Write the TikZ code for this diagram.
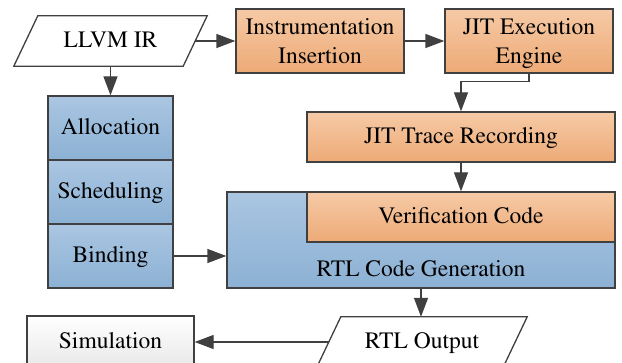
\documentclass[tikz,border=0pt]{standalone}
\usepackage[T1]{fontenc}
\usepackage{mathptmx}
\usetikzlibrary{arrows.meta,calc}

\definecolor{edge}{RGB}{64,64,64}
\definecolor{orangetop}{RGB}{246,202,166}
\definecolor{orangebot}{RGB}{237,170,118}
\definecolor{bluetop}{RGB}{170,198,226}
\definecolor{bluebot}{RGB}{140,177,212}
\definecolor{graybot}{RGB}{232,232,232}

\begin{document}
\begin{tikzpicture}[x=1pt,y=-1pt,
  font=\rmfamily\fontsize{23.5}{29}\selectfont,
  every node/.style={text height=17.5pt,text depth=5pt},
  twoline/.style={text height=50pt,text depth=5pt},
  box/.style={draw=edge,line width=1.3pt,minimum width=#1,inner sep=0pt,align=center},
  orangefill/.style={top color=orangetop,bottom color=orangebot},
  bluefill/.style={top color=bluetop,bottom color=bluebot},
  grayfill/.style={top color=white,bottom color=graybot},
  iobox/.style={minimum width=#1,minimum height=50pt,inner sep=0pt},
  para/.style={draw=edge,line width=1.3pt,fill=white,line join=miter},
  arr/.style={draw=edge,line width=1.3pt,-{Triangle[length=19pt,width=14pt,fill=edge]}}
]
\useasboundingbox (0,0) rectangle (622,363);
\clip (0,0) rectangle (622,363);

% input parallelogram
\node[iobox=169pt] (llvm) at (110.5,41) {};
\draw[para] ($(llvm.north west)+(12,0)$) -- ($(llvm.north east)+(12,0)$)
  -- ($(llvm.south east)+(-12,0)$) -- ($(llvm.south west)+(-12,0)$) -- cycle;
\node at (llvm.center) {LLVM IR};

% JIT side
\node[box=168pt,minimum height=64pt,orangefill,twoline] (ins) at (320,41) {Instrumentation\\Insertion};
\node[box=168pt,minimum height=64pt,orangefill,twoline] (jit) at (529,41) {JIT Execution\\Engine};
\node[box=308pt,minimum height=50pt,orangefill] (trace) at (461,137) {JIT Trace Recording};

% HLS stack
\node[box=125pt,minimum height=64pt,bluefill] (alloc) at (110.5,128) {Allocation};
\node[box=125pt,minimum height=64pt,bluefill] (sched) at (110.5,192) {Scheduling};
\node[box=125pt,minimum height=64pt,bluefill] (bind) at (110.5,256) {Binding};

% code generation with embedded verification code
\node[box=388pt,minimum height=96pt,bluefill] (rtl) at (421,240) {};
\node[anchor=base] (rtllab) at (421,277) {RTL Code Generation};
\node[box=308pt,minimum height=50pt,orangefill] (verif) at (461,217) {Verification Code};

% outputs
\node[box=167pt,minimum height=52pt,grayfill] (sim) at (110.5,342) {Simulation};
\node[iobox=186pt] (out) at (422,342) {};
\draw[para] ($(out.north west)+(12,0)$) -- ($(out.north east)+(12,0)$)
  -- ($(out.south east)+(-12,0)$) -- ($(out.south west)+(-12,0)$) -- cycle;
\node at (out.center) {RTL Output};

% connectors
\draw[arr] (llvm.east) -- (ins.west |- llvm.east);
\draw[arr] (llvm.south) -- (alloc.north);
\draw[arr] (ins.east) -- (jit.west);
\draw[arr] (jit.south) -- ++(0,8) -| (trace.north);
\draw[arr] (trace.south) -- (verif.north);
\draw[arr] (bind.east) -- (bind.east -| rtl.west);
\draw[arr] (rtl.south) -- (rtl.south |- out.north);
\draw[arr] (out.west) -- (sim.east);
\end{tikzpicture}
\end{document}
